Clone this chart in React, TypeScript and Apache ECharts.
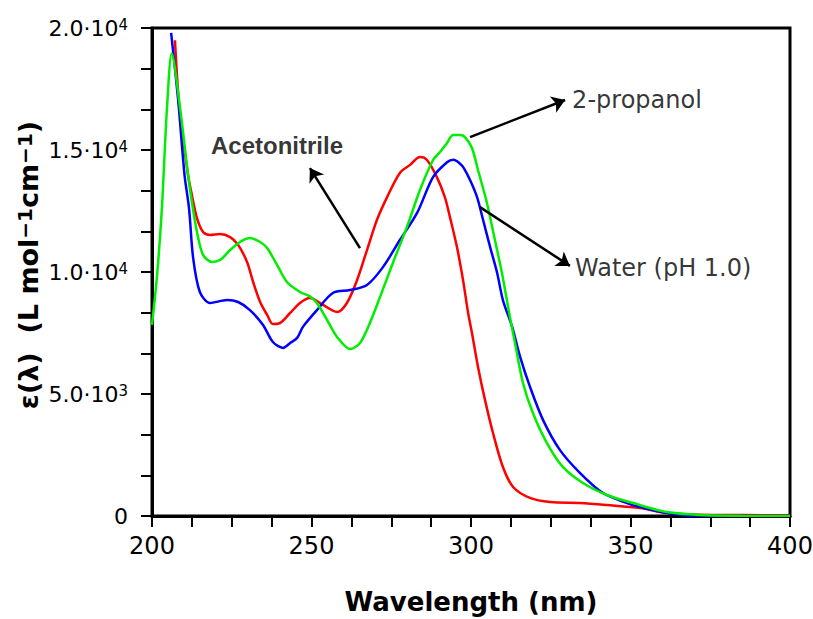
import React, { useEffect, useRef } from "react";
import * as echarts from "echarts";

const waterWl = [206.0, 208.2, 210.2, 211.6, 212.9, 215.0, 218.2, 223.5, 227.0, 230.7, 234.8, 237.9, 241.1, 243.3, 245.5, 247.3, 251.7, 256.7, 262.1, 267.4, 272.4, 277.7, 283.1, 288.1, 292.5, 294.5, 296.5, 297.8, 299.7, 301.9, 303.8, 306.0, 308.2, 310.0, 312.9, 315.4, 318.5, 322.6, 327.9, 334.2, 341.4, 348.9, 353.0, 361.4, 367.7, 375, 385, 400];
const waterEps = [19800, 17050, 13975, 12620, 10570, 9180, 8730, 8850, 8770, 8440, 7830, 7130, 6890, 7090, 7300, 7750, 8440, 9140, 9260, 9470, 10200, 11310, 12420, 13890, 14500, 14600, 14450, 14250, 13770, 13070, 12130, 11020, 9960, 8850, 7750, 6520, 5290, 3930, 2700, 1760, 940, 530, 370, 120, 20, 0, 0, 0];

const acnWl = [207.2, 208.6, 211.3, 212.5, 214.1, 216.0, 218.2, 221.3, 224.5, 227.0, 229.8, 231.7, 233.9, 236.1, 237.9, 240.0, 243.3, 246.4, 249.5, 253.6, 258.0, 261.1, 264.3, 267.4, 270.5, 273.7, 277.7, 280.9, 284.0, 286.2, 289.3, 291.8, 293.4, 295.6, 297.5, 299.1, 300.3, 302.2, 304.4, 306.9, 310.0, 313.2, 318.5, 324.8, 334.2, 342.6, 353.0, 361.4, 371.8, 385, 400];
const acnEps = [19500, 16720, 13975, 13160, 12210, 11640, 11520, 11560, 11430, 11110, 10410, 9590, 8770, 8240, 7870, 7900, 8320, 8730, 8930, 8650, 8360, 8730, 9670, 10900, 12130, 13070, 14060, 14390, 14710, 14590, 13890, 13070, 12250, 11020, 9670, 8320, 7500, 6110, 4750, 3400, 2010, 1190, 740, 570, 530, 450, 330, 120, 50, 40, 30];

const propWl = [200.0, 201.6, 203.1, 204.7, 206.2, 208.8, 211.3, 212.5, 214.1, 216.0, 218.8, 221.3, 224.5, 227.6, 230.7, 233.9, 236.1, 239.2, 242.3, 246.4, 249.5, 251.7, 254.9, 258.0, 262.1, 265.2, 268.3, 271.5, 275.5, 279.9, 284.0, 288.1, 290.3, 292.5, 294.4, 296.6, 298.1, 300.3, 302.2, 305.0, 307.5, 309.7, 312.2, 313.8, 316.3, 319.4, 323.8, 328.8, 335.1, 342.6, 350.8, 361.4, 371.8, 385, 400];
const propEps = [7830, 9880, 12620, 16720, 18960, 16720, 13975, 12870, 11640, 10700, 10410, 10490, 10900, 11230, 11390, 11230, 10980, 10290, 9590, 9180, 9000, 8730, 8030, 7340, 6840, 7090, 7910, 8980, 10370, 11840, 13360, 14590, 14920, 15290, 15610, 15610, 15530, 15080, 14180, 12830, 11310, 9960, 8160, 7090, 5450, 4220, 2990, 2010, 1350, 860, 530, 160, 40, 10, 0];

const xTickValues = [200, 250, 300, 350, 400];
const xTickLabels = ["200", "250", "300", "350", "400"];
const yTickValues = [0, 5000, 10000, 15000, 20000];
const yTickLabels = ["0", "5.0·10{sup|3}", "1.0·10{sup|4}", "1.5·10{sup|4}", "2.0·10{sup|4}"];

const annotationNames = ["Acetonitrile", "2-propanol", "Water (pH 1.0)"];
const annotationAt = [[218.5, 15200], [331.7, 17050], [332.6, 10160]];
const arrowFrom = [[265.2, 10980], [299.7, 15530], [302.8, 12660]];
const arrowTo = [[249.5, 14260], [329.5, 17050], [331.0, 10250]];

const zip = (xs: number[], ys: number[]) => xs.map((x, i) => [x, ys[i]]);

export default function App() {
  const ref = useRef<HTMLDivElement>(null);
  useEffect(() => {
    document.body.style.margin = "0";
    const chart = echarts.init(ref.current!, null, { renderer: "svg" });
    const lineSeries = (name: string, xs: number[], ys: number[], color: string) => ({
      name,
      type: "line",
      data: zip(xs, ys),
      showSymbol: false,
      smooth: 0.3,
      lineStyle: { color, width: 2.5 },
      z: 3,
    });
    chart.setOption({
      animation: false,
      backgroundColor: "#fff",
      grid: {
        left: 152, right: 23, top: 28, bottom: 103,
        show: true, borderColor: "#000", borderWidth: 3,
        containLabel: false, outerBoundsMode: "none",
      },
      graphic: [
        {
          type: "text",
          x: 28,
          y: 265,
          rotation: Math.PI / 2,
          style: {
            text: "ε(λ)  (L mol{sup|−1}cm{sup|−1})",
            fontFamily: "DejaVu Sans",
            fontWeight: "bold",
            fontSize: 27,
            fill: "#000",
            align: "center",
            verticalAlign: "middle",
            rich: {
              sup: { fontFamily: "DejaVu Sans", fontWeight: "bold", fontSize: 20, verticalAlign: "top", fill: "#000" },
            },
          },
        },
      ],
      xAxis: {
        type: "value",
        min: 200,
        max: 400,
        interval: 50,
        name: "Wavelength (nm)",
        nameLocation: "middle",
        nameGap: 73,
        nameTextStyle: { fontFamily: "DejaVu Sans", fontWeight: "bold", fontSize: 26, color: "#000" },
        axisLine: { lineStyle: { color: "#000", width: 3 } },
        axisTick: { show: true, inside: false, length: 11, lineStyle: { color: "#000", width: 2 } },
        minorTick: { show: true, splitNumber: 4, length: 11, lineStyle: { color: "#000", width: 2 } },
        splitLine: { show: false },
        axisLabel: {
          margin: 18,
          fontFamily: "DejaVu Sans",
          fontSize: 24,
          color: "#000",
          formatter: (v: number) => xTickLabels[xTickValues.indexOf(v)] ?? "",
        },
      },
      yAxis: {
        type: "value",
        min: 0,
        max: 20000,
        interval: 5000,
        axisLine: { lineStyle: { color: "#000", width: 3 } },
        axisTick: { show: true, inside: false, length: 11, lineStyle: { color: "#000", width: 2 } },
        minorTick: { show: true, splitNumber: 3, length: 11, lineStyle: { color: "#000", width: 2 } },
        splitLine: { show: false },
        axisLabel: {
          margin: 24,
          fontFamily: "DejaVu Sans",
          fontSize: 22,
          color: "#000",
          formatter: (v: number) => yTickLabels[yTickValues.indexOf(v)] ?? "",
          rich: { sup: { fontFamily: "DejaVu Sans", fontSize: 15, verticalAlign: "top", color: "#000" } },
        },
      },
      series: [
        lineSeries("Acetonitrile", acnWl, acnEps, "#ff0000"),
        lineSeries("Water (pH 1.0)", waterWl, waterEps, "#0000ff"),
        lineSeries("2-propanol", propWl, propEps, "#00ee00"),
        {
          type: "lines",
          coordinateSystem: "cartesian2d",
          symbol: ["none", "arrow"],
          symbolSize: 13,
          lineStyle: { color: "#000", width: 2.5, opacity: 1 },
          data: arrowFrom.map((f, i) => ({ coords: [f, arrowTo[i]] })),
          z: 4,
        },
        {
          type: "scatter",
          symbolSize: 0,
          data: annotationNames.map((n, i) => ({
            name: n,
            value: annotationAt[i],
            label: i === 0 ? { fontFamily: "Liberation Sans", fontWeight: "bold", fontSize: 24 } : {},
          })),
          label: {
            show: true,
            position: "right",
            distance: 0,
            formatter: "{b}",
            color: "#000",
            fontFamily: "DejaVu Sans",
            fontSize: 24,
          },
          z: 5,
        },
      ],
    });
    return () => chart.dispose();
  }, []);
  return <div ref={ref} style={{ width: 813, height: 619 }} />;
}
